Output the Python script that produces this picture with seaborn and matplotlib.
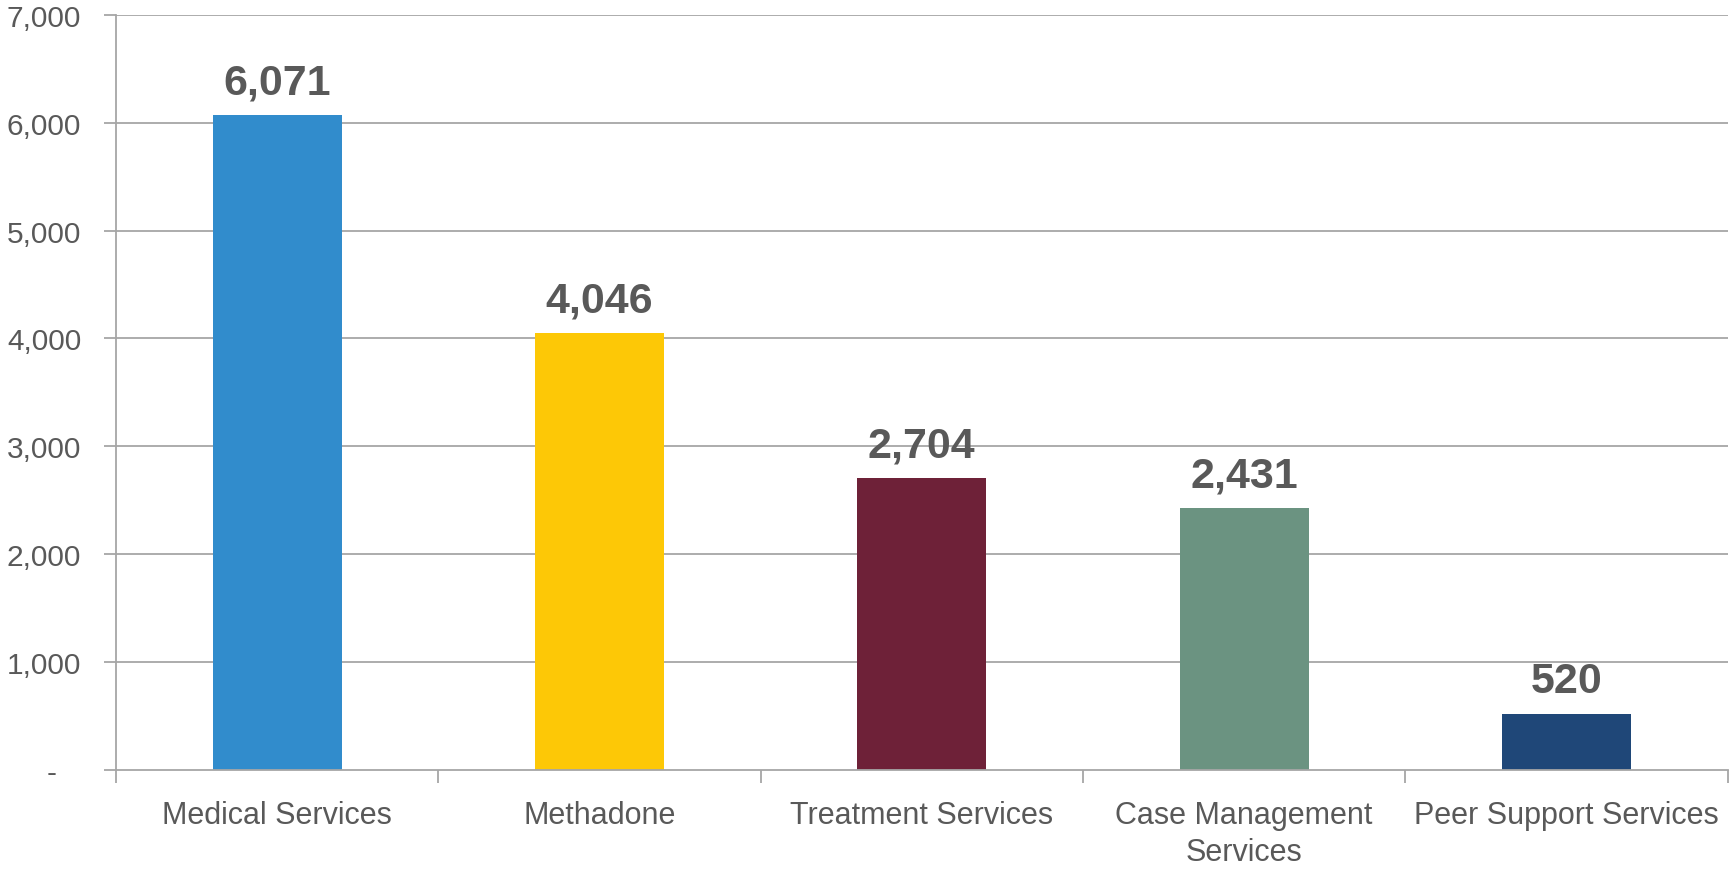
import pandas as pd
import matplotlib.pyplot as plt
import seaborn as sns

# chart data
categories = ["Medical Services", "Methadone", "Treatment Services",
              "Case Management\nServices", "Peer Support Services"]
values = [6071, 4046, 2704, 2431, 520]
bar_colors = ["#318CCC", "#FDC806", "#6E2138", "#6B9381", "#1F4778"]
y_ticks = [0, 1000, 2000, 3000, 4000, 5000, 6000, 7000]
y_tick_labels = ["-   ", "1,000", "2,000", "3,000", "4,000", "5,000", "6,000", "7,000"]

df = pd.DataFrame({"Category": categories, "Value": values})

sns.set_theme(style="white")
plt.rcParams["font.family"] = ["Liberation Sans", "DejaVu Sans"]

fig = plt.figure(figsize=(17.31, 8.78), dpi=100)
ax = fig.add_axes([0.067, 0.122, 0.931, 0.86])

sns.barplot(data=df, x="Category", y="Value", hue="Category",
            palette=bar_colors, width=0.4, legend=False, ax=ax,
            saturation=1, linewidth=0, zorder=3)

grid_col = "#A6A6A6"
text_col = "#595959"

ax.set_ylim(0, 7000)
ax.set_xlim(-0.5, len(categories) - 0.5)
ax.set_yticks(y_ticks)
ax.set_yticklabels(y_tick_labels)
for y in y_ticks[1:]:
    ax.axhline(y, color=grid_col, lw=1.3, zorder=1)

# x ticks at category boundaries, labels at centers
ax.set_xticks([i - 0.5 for i in range(len(categories) + 1)])
ax.set_xticklabels([])
ax.set_xticks(range(len(categories)), minor=True)
ax.set_xticklabels(categories, minor=True, linespacing=1.3)
ax.tick_params(axis="x", which="minor", length=0, pad=22,
               labelsize=22, labelcolor=text_col)
ax.tick_params(axis="x", which="major", length=9, width=1.3,
               color=grid_col, direction="out", bottom=True)
ax.tick_params(axis="y", length=9, width=1.3, color=grid_col,
               direction="out", left=True, labelsize=21.5,
               labelcolor=text_col, pad=16)

for s in ["top", "right"]:
    ax.spines[s].set_visible(False)
for s in ["left", "bottom"]:
    ax.spines[s].set_color(grid_col)
    ax.spines[s].set_linewidth(1.3)
    ax.spines[s].set_zorder(4)

ax.set_xlabel("")
ax.set_ylabel("")

for i, v in enumerate(values):
    ax.annotate(f"{v:,}", (i, v), xytext=(0, 9), textcoords="offset points",
                ha="center", va="bottom", fontsize=31, fontweight="bold",
                color=text_col, zorder=5)

plt.savefig("out.png", dpi=100)
